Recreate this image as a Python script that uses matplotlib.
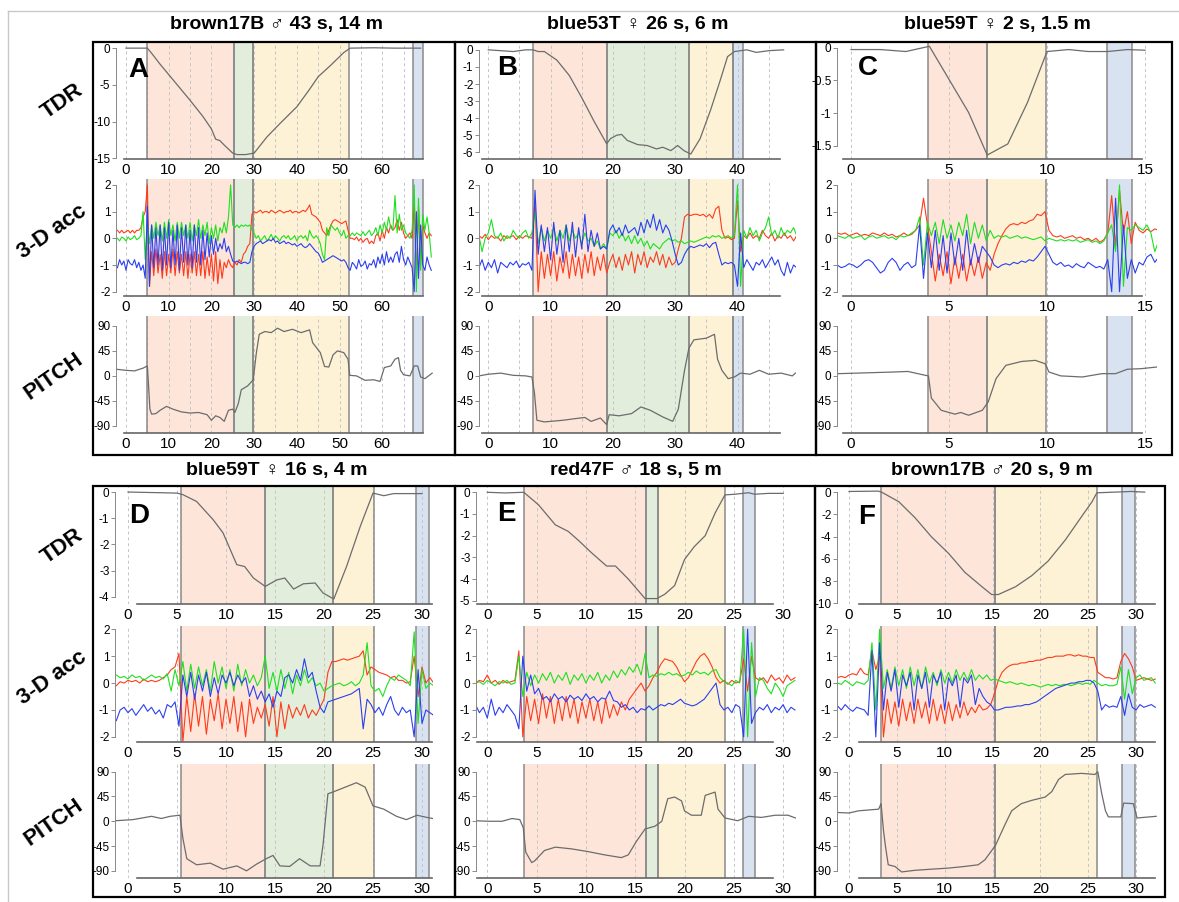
import numpy as np
import matplotlib
matplotlib.use("Agg")
import matplotlib.pyplot as plt
from matplotlib.patches import Rectangle
from matplotlib.lines import Line2D

plt.rcParams['font.family'] = ['Liberation Sans', 'DejaVu Sans']
plt.rcParams['axes.unicode_minus'] = False

W, H = 1179, 902

# ---------------- data ----------------
titles = ['brown17B \u2642 43 s, 14 m', 'blue53T \u2640 26 s, 6 m', 'blue59T \u2640 2 s, 1.5 m',
          'blue59T \u2640 16 s, 4 m', 'red47F \u2642 18 s, 5 m', 'brown17B \u2642 20 s, 9 m']
letters = ['A', 'B', 'C', 'D', 'E', 'F']
row_names = ['TDR', '3-D acc', 'PITCH']

# dive phases (s): descent, bottom, ascent, surface
phases_A = [('descent', 5.0, 25.3), ('bottom', 25.3, 29.8), ('ascent', 29.8, 52.3), ('surface', 67.2, 69.6)]
phases_B = [('descent', 7.2, 19.0), ('bottom', 19.0, 32.2), ('ascent', 32.2, 39.3), ('surface', 39.3, 40.9)]
phases_C = [('descent', 3.95, 6.92), ('ascent', 6.92, 9.95), ('surface', 13.06, 14.35)]
phases_D = [('descent', 5.4, 14.0), ('bottom', 14.0, 20.95), ('ascent', 20.95, 25.1), ('surface', 29.4, 30.75)]
phases_E = [('descent', 3.72, 16.06), ('bottom', 16.06, 17.28), ('ascent', 17.28, 24.1), ('surface', 25.96, 27.2)]
phases_F = [('descent', 3.3, 15.26), ('ascent', 15.26, 25.9), ('surface', 28.56, 29.9)]

# x tick labels
xticks_A = [0, 10, 20, 30, 40, 50, 60]
xticks_B = [0, 10, 20, 30, 40]
xticks_C = [0, 5, 10, 15]
xticks_DEF = [0, 5, 10, 15, 20, 25, 30]

# TDR depth ticks
tdr_ticks_A = [0, -5, -10, -15]
tdr_ticks_B = [0, -1, -2, -3, -4, -5, -6]
tdr_ticks_C = [0, -0.5, -1, -1.5]
tdr_ticks_D = [0, -1, -2, -3, -4]
tdr_ticks_E = [0, -1, -2, -3, -4, -5]
tdr_ticks_F = [0, -2, -4, -6, -8, -10]
acc_ticks = [2, 1, 0, -1, -2]
pitch_ticks = [90, 45, 0, -45, -90]

# TDR depth (t, m)
tdr_A = [(0, 0), (5, 0), (6, -0.7), (8, -2.2), (10, -3.6), (12, -5.0), (15, -7.1), (18, -9.3), (20, -11.0),
         (21, -12.4), (22, -12.6), (23, -13.2), (25, -14.3), (26, -14.5), (28, -14.5), (30, -14.3), (33, -12.1),
         (36, -10.3), (40, -8.0), (43, -5.6), (45, -3.9), (48, -2.3), (51, -0.6), (52.5, 0), (58, 0.05), (63, 0),
         (69, 0)]
tdr_B = [(0, 0), (2, -0.05), (4, -0.1), (6, 0), (7.2, 0), (8, -0.1), (9, -0.1), (11, -0.6), (13, -1.5), (15, -2.8),
         (17, -4.2), (19, -5.5), (19.6, -5.2), (20.6, -5.0), (21.4, -4.95), (22.3, -5.3), (24, -5.55), (25.5, -5.6),
         (27, -5.8), (28, -5.7), (29.3, -5.9), (30.4, -5.6), (31.4, -5.9), (32.5, -6.1), (34, -5.2), (35.7, -3.5),
         (37.3, -1.7), (38.4, -0.4), (39.5, -0.1), (41.5, 0), (43, -0.15), (45, -0.05), (47.4, 0)]
tdr_C = [(0, -0.03), (1.5, -0.03), (2.8, -0.06), (4.0, 0.02), (6.0, -0.99), (6.95, -1.64), (8.0, -1.47),
         (9.0, -0.84), (10.0, -0.06), (11.1, -0.03), (12.1, -0.06), (13.1, -0.06), (14.1, -0.03), (15.0, -0.04)]
tdr_D = [(0, 0), (5, -0.04), (5.6, -0.1), (7.0, -0.36), (8.7, -1.06), (9.7, -1.56), (11.1, -2.77), (11.9, -2.84),
         (12.8, -3.28), (14.0, -3.6), (15.2, -3.35), (16.0, -3.28), (16.9, -3.7), (17.9, -3.5), (19.1, -3.47),
         (19.9, -3.85), (21.0, -4.08), (22.3, -2.84), (23.7, -1.31), (25.0, -0.04), (26.1, -0.14), (27.1, -0.06),
         (28.4, -0.06), (30, -0.06)]
tdr_E = [(0, 0), (1.8, -0.03), (3.7, 0), (5.2, -0.58), (6.9, -1.5), (8.2, -1.8), (9.2, -2.2), (10.6, -2.8),
         (12.1, -3.4), (13.0, -3.4), (14.3, -4.0), (16.0, -4.9), (17.2, -4.9), (18.0, -4.7), (19.0, -4.3),
         (20.0, -3.1), (21.0, -2.5), (22.1, -2.0), (23.1, -0.96), (24.1, -0.12), (25.1, -0.09), (26.5, -0.02),
         (27.1, -0.09), (28.5, -0.05), (30.0, -0.05)]
tdr_F = [(0, 0.06), (3.07, 0.09), (3.4, 0), (5.2, -0.86), (6.9, -2.3), (8.6, -4.0), (10.4, -5.5), (12.1, -7.2),
         (13.9, -8.5), (14.9, -9.2), (15.6, -9.2), (17.4, -8.5), (19.1, -7.5), (20.8, -6.2), (22.6, -4.3),
         (24.3, -2.2), (25.4, -0.86), (25.9, -0.06), (27.8, 0), (29.5, 0.06), (30.9, 0)]

# pitch (t, deg)
pitch_A = [(-2.3, 12), (0, 10), (2, 9), (4, 14), (5, 18), (5.3, -20), (5.6, -60), (6, -69), (7, -68), (8, -62),
           (9.5, -55), (11, -60), (13, -65), (15, -67), (17, -66), (19, -70), (20, -80), (21, -72), (22, -75),
           (23, -82), (24, -62), (25, -60), (25.5, -66), (26.3, -50), (27, -25), (28.5, -18), (29.8, -7), (30.5, 40),
           (31.2, 75), (32.5, 80), (34, 78), (35.5, 86), (37, 80), (39, 84), (41, 78), (43, 83), (43.7, 60),
           (44.5, 52), (45.5, 42), (46.5, 17), (47.5, 16), (48.5, 38), (49.5, 45), (51, 42), (52, 30), (52.4, 1),
           (54, 0), (56, -8), (58, -7), (59.5, -10), (60.5, 15), (62, 18), (63, 30), (63.8, 33), (64.3, 10),
           (65, 2), (66.5, 0), (67.5, 18), (68.3, 18), (69, -2), (70, -5), (71.7, 5)]
pitch_B = [(-1.5, 0), (0, 3), (2, 5), (4, 1), (6, 0), (7, -2), (7.4, -30), (7.8, -80), (9, -83), (12, -80),
           (14, -77), (15.5, -75), (16.5, -82), (18, -76), (19, -88), (19.4, -70), (21, -72), (23, -68),
           (24.5, -56), (26, -62), (28, -74), (29.6, -82), (30.5, -60), (31.5, 10), (32.2, 50), (33, 65), (35, 68),
           (36.3, 75), (36.8, 30), (37.5, 10), (38.5, -5), (39.5, -2), (40.5, 5), (42, 3), (43.5, 10), (45, 3),
           (47, 5), (48.8, 0), (49.3, 5)]
pitch_C = [(-0.65, 4), (2.2, 7), (2.9, 8), (3.8, 1), (3.95, 0), (4.1, -40), (4.6, -62), (5.3, -69), (5.6, -66),
           (6.0, -71), (6.7, -62), (7.0, -47), (7.4, -5), (7.9, 19), (8.7, 26), (9.4, 28), (9.9, 22), (10.1, 7),
           (10.7, 0), (11.8, -2), (12.8, 4), (13.5, 4), (14.1, 12), (14.8, 13), (15.6, 16)]
pitch_D = [(-1.3, 1), (0.5, 3), (2.4, 9), (3.4, 5), (4.3, 9), (5.3, 11), (5.6, -31), (6.0, -68), (7.0, -79),
           (8.4, -76), (9.7, -87), (11.1, -81), (12.1, -90), (13.1, -78), (14.1, -68), (14.8, -62), (15.5, -81),
           (16.5, -82), (17.5, -68), (18.6, -81), (19.6, -81), (19.9, -43), (20.4, 50), (20.9, 53), (23.3, 70),
           (24.2, 62), (25.0, 28), (26.1, 22), (27.4, 9), (28.4, 3), (29.5, 11), (30.5, 7), (31.1, 5)]
pitch_E = [(-1.2, 1), (0.1, 0), (1.5, 0), (2.5, 5), (3.3, 3), (3.65, -12), (3.9, -56), (4.5, -75), (4.8, -72),
           (5.8, -53), (6.9, -47), (8.5, -50), (10.2, -55), (11.9, -61), (13.6, -66), (14.3, -61), (15.1, -37),
           (16.0, -14), (17.0, -9), (17.7, 0), (18.3, 41), (19.0, 44), (19.7, 37), (20.0, 19), (20.7, 11),
           (21.7, 11), (22.1, 47), (23.1, 53), (23.4, 22), (24.1, 6), (25.4, 1), (26.5, 9), (27.8, 7), (29.2, 11),
           (30.5, 11), (31.25, 6)]
pitch_F = [(-1.25, 16), (0, 15), (1.0, 19), (1.7, 20), (3.1, 22), (3.35, 32), (3.6, -16), (3.8, -44), (4.1, -79),
           (4.8, -82), (5.5, -92), (6.9, -89), (8.6, -87), (10.4, -85), (12.1, -82), (13.5, -79), (14.2, -70),
           (15.3, -44), (16.3, -6), (17.0, 19), (18.0, 32), (19.1, 38), (20.5, 44), (21.2, 54), (21.9, 76),
           (22.6, 85), (24.3, 87), (25.7, 85), (26.0, 90), (26.4, 51), (26.8, 19), (27.1, 8), (28.4, 8), (28.7, 33),
           (29.7, 32), (30.1, 6), (32.1, 9)]

# 3-D acceleration (g), sampled from t0 every dt seconds
acc_A_t0, acc_A_dt = -2.0, 0.5
acc_A_red = [0.3, 0.2, 0.3, 0.2, 0.25, 0.3, 0.2, 0.3, 0.2, 0.3,
             0.3, 0.4, 0.8, 1.0, 2.0, -1.8, -0.5, -1.4, -0.4, -1.3,
             -0.6, -1.5, -0.5, -1.4, -0.6, -1.3, -0.4, -1.4, -0.5, -1.3,
             -0.6, -1.4, -0.5, -1.5, -0.6, -1.3, -0.5, -1.4, -0.6, -1.4,
             -0.5, -1.5, -0.7, -1.4, -0.6, -1.6, -0.5, -1.7, -0.8, -1.5,
             -0.9, -1.1, -0.8, -1.0, -1.1, -0.9, -1.0, -0.8, -0.9, -0.6,
             -0.5, -0.3, -0.2, 0.9, 1.0, 0.95, 1.0, 1.05, 0.95, 1.0,
             1.0, 0.95, 1.05, 1.0, 0.95, 1.0, 1.05, 1.0, 0.95, 1.0,
             1.0, 1.05, 0.95, 1.0, 1.0, 0.95, 1.0, 1.05, 1.0, 1.1,
             1.25, 0.9, 0.85, 0.8, 0.7, 0.6, 0.3, 0.2, 0.1, 0.3,
             0.5, 0.65, 0.7, 0.65, 0.6, 0.55, 0.6, 0.65, 0.3, 0.0,
             0.0, -0.05, 0.05, -0.1, 0.0, -0.15, -0.05, 0.0, -0.2, -0.1,
             -0.2, 0.1, 0.2, -0.1, 0.3, 0.0, 0.4, 0.2, 0.5, 0.3,
             0.4, 0.7, 0.3, 0.6, 0.2, 0.0, 0.1, 0.2, 0.0, 1.4,
             -1.5, 1.2, -1.0, 0.5, 0.2, 0.0, 0.2, 0.1]
acc_A_green = [0.0, -0.1, 0.05, 0.0, -0.1, 0.05, -0.05, 0.0, 0.1, -0.05,
               0.0, 0.1, 1.0, -0.8, 0.6, -0.2, 0.5, 0.0, 0.6, 0.1,
               0.5, -0.1, 0.6, 0.0, 0.7, 0.1, 0.5, -0.1, 0.6, 0.0,
               0.6, 0.1, 0.5, 0.0, 0.6, -0.1, 0.5, 0.1, 0.7, 0.0,
               0.5, 0.1, 0.6, -0.2, 0.4, 0.0, 0.5, -0.1, 0.4, 0.2,
               0.6, 0.2, 0.8, 2.0, 0.5, 0.4, 0.5, 0.4, 0.5, 0.45,
               0.5, 0.45, 0.5, 0.3, 0.2, 0.0, 0.1, -0.1, 0.0, 0.1,
               -0.1, 0.0, 0.15, -0.05, 0.1, 0.0, -0.1, 0.05, 0.1, 0.0,
               0.1, -0.05, 0.0, 0.1, -0.1, 0.05, 0.1, 0.0, 0.1, -0.1,
               0.3, 0.1, 0.0, 0.1, 0.0, -0.2, -0.6, -0.8, 0.4, 0.1,
               0.5, 0.4, 0.3, 0.4, 0.2, 0.1, 0.3, 0.0, 0.1, 0.1,
               0.2, 0.1, 0.2, 0.15, 0.1, 0.25, 0.1, 0.2, 0.3, 0.1,
               0.2, 0.4, 0.1, 0.5, 0.2, 0.6, 0.3, 0.8, 0.4, 0.3,
               1.6, 0.2, 0.9, 0.3, 0.5, 0.2, 0.1, 0.0, 0.3, 2.0,
               -2.0, 1.5, -1.2, 0.9, 0.3, 0.8, 0.2, -0.7]
acc_A_blue = [-1.1, -0.8, -1.0, -0.85, -1.2, -0.8, -0.95, -1.0, -0.8, -1.1,
              -0.9, -1.2, -1.0, -1.5, 1.2, -1.8, 0.5, -1.1, 0.4, -1.0,
              0.5, -1.2, 0.4, -1.0, 0.6, -1.1, 0.3, -1.0, 0.5, -1.2,
              0.4, -0.9, 0.5, -1.0, 0.3, -1.1, 0.5, -0.9, 0.4, -1.0,
              0.3, -0.8, 0.2, -0.7, 0.1, -0.6, 0.0, -0.5, -0.2, -0.4,
              0.0, -0.5, -0.3, -0.6, -0.85, -0.9, -0.85, -0.9, -0.95, -0.9,
              -0.9, -0.95, -0.9, -0.5, -0.3, -0.2, -0.15, -0.1, -0.2, -0.15,
              -0.1, -0.05, -0.1, 0.0, -0.15, -0.1, -0.2, -0.15, -0.1, -0.2,
              -0.15, -0.2, -0.25, -0.2, -0.3, -0.25, -0.2, -0.3, -0.35, -0.3,
              -0.2, -0.3, -0.4, -0.5, -0.55, -0.7, -0.9, -0.85, -0.8, -0.75,
              -0.7, -0.65, -0.7, -0.75, -0.8, -0.85, -0.8, -0.9, -1.1, -1.2,
              -0.9, -1.0, -1.15, -0.8, -1.05, -1.0, -0.85, -1.15, -0.95, -1.0,
              -0.8, -1.1, -0.7, -0.95, -0.6, -1.0, -0.5, -0.9, -0.7, -0.9,
              -0.6, -0.5, -0.9, -0.3, -0.8, -1.0, -0.7, -0.9, -1.1, -2.0,
              1.0, -1.5, 0.5, -1.0, -1.2, -0.7, -1.0, -1.2]

acc_B_t0, acc_B_dt = -1.5, 0.5
acc_B_red = [0.1, 0.0, 0.15, -0.05, 0.1, 0.0, 0.05, -0.1, 0.1, 0.0,
             0.05, 0.1, -0.05, 0.1, 0.0, 0.1, 0.05, 0.0, 1.4, -2.0,
             -0.5, -1.5, -0.6, -1.4, -0.5, -1.6, -0.7, -1.3, -0.5, -1.5,
             -0.6, -1.4, -0.7, -1.5, -0.6, -1.3, -0.5, -1.4, -0.7, -1.2,
             -0.6, -1.3, -0.9, -0.6, -1.1, -0.7, -1.2, -0.6, -1.0, -0.5,
             -1.3, -0.6, -1.0, -0.5, -1.1, -0.7, -0.9, -0.5, -1.0, -0.6,
             -1.1, -0.7, -1.0, -0.9, -0.4, 0.0, 0.8, 0.9, 0.85, 0.9,
             0.9, 0.85, 0.9, 0.8, 0.9, 0.75, 1.1, 1.2, 0.3, 0.0,
             0.05, -0.05, 0.0, 1.4, -0.5, 0.1, 0.0, 0.2, 0.0, 0.1,
             0.0, 0.3, 0.1, 0.0, 0.2, -0.1, 0.1, 0.0, 0.2, 0.0,
             0.1, -0.1, 0.1, 0.0]
acc_B_green = [0.1, -0.5, 0.0, 0.2, 0.7, 0.1, 0.0, 0.2, -0.1, 0.1,
               0.0, 0.3, 0.1, 0.0, 0.2, 0.3, 0.0, 0.2, 1.0, -0.2,
               0.4, -0.1, 0.3, 0.0, 0.4, -0.1, 0.3, 0.0, 0.5, -0.1,
               0.3, 0.0, 0.2, -0.2, 0.2, -0.1, 0.0, -0.3, -0.1, -0.4,
               -0.2, -0.4, 0.2, 0.1, 0.3, 0.0, 0.2, -0.1, 0.1, -0.2,
               0.1, -0.2, 0.0, -0.3, -0.1, -0.4, -0.2, -0.3, -0.4, -0.2,
               -0.1, 0.0, -0.1, -0.05, -0.15, -0.1, -0.2, -0.15, -0.1, -0.15,
               -0.1, -0.05, 0.0, 0.05, 0.0, 0.1, 0.05, 0.1, 0.0, 0.05,
               0.1, 0.0, 0.1, 2.0, -1.8, 0.3, 0.0, 0.4, 0.1, 0.3,
               -0.1, 0.2, 0.4, 0.8, 0.1, 0.3, 0.0, 0.4, 0.1, 0.3,
               0.2, 0.4, 0.1, 0.3]
acc_B_blue = [-1.1, -0.8, -1.2, -0.9, -1.1, -0.8, -1.3, -0.9, -1.0, -1.1,
              -0.9, -1.0, -0.85, -1.1, -0.95, -1.0, -0.9, -1.2, 1.8, -0.6,
              0.5, -0.5, 0.4, -0.8, 0.6, -0.6, 0.3, -0.9, 0.5, -0.5,
              0.6, -0.7, 0.4, -0.4, 0.9, -0.5, 0.3, -0.3, 0.2, -0.4,
              -0.3, -0.4, 0.3, 0.5, 0.2, 0.4, 0.1, 0.5, 0.2, 0.3,
              0.4, 0.1, 0.6, 0.2, 0.7, 0.4, 0.9, 0.3, 0.7, 0.2,
              0.5, 0.3, -0.1, -0.6, -1.0, -0.9, -0.6, -0.4, -0.3, -0.35,
              -0.3, -0.25, -0.3, -0.2, -0.35, -0.2, -0.15, -0.6, -1.0, -0.9,
              -0.95, -0.9, -1.0, -1.8, 0.2, -1.1, -0.8, -1.0, -1.2, -0.9,
              -1.0, -0.8, -1.1, -0.9, -0.7, -1.0, -0.8, -1.2, -1.4, -0.9,
              -1.3, -1.0, -1.1, -0.9]

acc_C_t0, acc_C_dt = -0.7, 0.2
acc_C_red = [0.2, 0.15, 0.2, 0.1, 0.15, 0.2, 0.1, 0.15, 0.1, 0.2,
             0.15, 0.1, 0.2, 0.1, 0.15, 0.05, 0.1, 0.2, 0.1, 0.15,
             0.3, 0.5, 1.5, 0.5, -0.5, -1.6, -0.6, -1.4, -0.5, -1.7,
             -0.7, -1.5, -0.6, -1.6, -0.8, -1.4, -0.7, -1.5, -0.9, -1.2,
             -0.6, -0.2, 0.1, 0.35, 0.5, 0.55, 0.5, 0.6, 0.55, 0.65,
             0.7, 0.9, 0.85, 1.0, 0.3, 0.1, 0.05, 0.1, 0.0, 0.05,
             0.1, 0.0, 0.05, -0.05, 0.0, -0.1, 0.0, -0.15, -0.05, 0.2,
             1.6, -0.3, 1.8, 0.2, 1.0, -0.2, 0.6, 0.3, 0.2, 0.35,
             0.25, 0.35, 0.3]
acc_C_green = [0.1, 0.05, 0.0, 0.1, 0.0, 0.05, 0.1, -0.05, 0.05, 0.1,
               0.0, 0.05, 0.1, 0.0, 0.05, -0.05, 0.1, 0.05, 0.1, 0.2,
               0.3, 0.8, -1.0, 0.6, 0.1, 0.6, -0.2, 0.7, 0.0, 0.5,
               -0.1, 0.6, 0.1, 0.9, -0.2, 0.6, 0.0, 0.5, -0.1, 0.3,
               0.0, 0.1, 0.05, 0.1, 0.0, 0.05, 0.1, 0.0, 0.05, 0.0,
               -0.05, 0.0, 0.05, -0.1, 0.0, -0.05, -0.1, -0.05, -0.1, -0.05,
               -0.1, -0.05, -0.15, -0.1, -0.05, -0.15, -0.1, -0.2, -0.1, 0.2,
               0.5, -0.5, 2.0, -1.8, 0.4, 0.3, 0.5, 0.4, 0.3, 0.5,
               0.2, -0.5, -0.1]
acc_C_blue = [-1.0, -1.1, -1.05, -0.95, -1.0, -1.1, -1.0, -0.85, -0.8, -0.9,
              -1.1, -1.3, -1.2, -0.9, -0.75, -0.9, -1.2, -1.0, -0.9, -1.1,
              -1.0, 0.5, -1.5, 0.2, -1.1, 0.3, -1.2, 0.1, -1.3, 0.2,
              -1.0, 0.0, -1.2, 0.3, -1.0, -0.2, -0.9, -0.3, -0.5, -0.7,
              -1.0, -1.1, -1.0, -0.95, -1.0, -0.9, -0.95, -0.85, -0.9, -0.8,
              -0.85, -0.7, -0.5, -0.3, -0.6, -0.9, -1.0, -0.9, -1.05, -1.0,
              -1.1, -0.95, -1.05, -1.1, -0.9, -1.0, -1.1, -1.05, -1.15, -0.8,
              -2.0, 1.5, -2.0, 0.5, -1.5, -0.8, -1.3, -0.9, -1.0, -0.7,
              -0.6, -0.9, -0.7]

acc_D_t0, acc_D_dt = -1.2, 0.4
acc_D_red = [-0.1, 0.05, 0.0, 0.1, 0.05, 0.1, 0.0, 0.15, 0.05, 0.1,
             0.05, 0.1, 0.2, 0.3, 0.5, 0.6, 1.1, -2.2, -0.5, -1.8,
             -0.4, -1.6, -0.5, -1.9, -0.6, -1.4, -0.4, -1.7, -0.6, -1.5,
             -0.5, -1.8, -0.7, -2.0, -0.6, -1.5, -0.9, -1.3, -0.8, -1.6,
             -0.5, -2.0, -0.7, -1.7, -0.8, -1.3, -0.9, -1.2, -0.8, -1.3,
             -1.0, -1.2, -0.9, -0.6, 0.4, 0.8, 0.8, 0.85, 0.9, 0.85,
             0.9, 0.95, 1.0, 1.2, 0.3, 0.6, 0.5, 0.4, 0.35, 0.3,
             0.2, 0.25, 0.1, 0.1, 0.0, 0.05, 1.0, -0.5, 0.6, 0.0,
             0.2, 0.0]
acc_D_green = [0.3, 0.2, 0.25, 0.15, 0.3, 0.2, 0.25, 0.1, 0.2, 0.3,
               0.2, 0.25, 0.15, 0.35, -0.3, 0.5, -0.1, 0.8, -0.3, 0.7,
               -0.2, 0.6, -0.1, 0.5, -0.3, 0.8, 0.0, 0.6, -0.2, 0.5,
               -0.3, 0.7, -0.1, 0.5, 0.0, 0.3, -0.1, 0.2, 1.0, -0.2,
               0.4, -0.3, 0.5, -0.2, 0.4, -0.4, 0.3, -0.1, 0.5, 0.0,
               0.2, -0.1, 0.0, -0.3, -0.2, -0.1, -0.05, 0.0, -0.1, -0.05,
               0.05, -0.1, 0.0, 0.3, 1.5, -0.1, -0.3, -0.2, -0.5, -0.1,
               0.2, 0.1, 0.3, 0.2, 0.1, -0.1, 1.9, -1.5, 0.5, -0.2,
               0.0, -0.1]
acc_D_blue = [-1.4, -1.0, -0.9, -1.1, -0.95, -1.2, -1.0, -0.8, -1.05, -0.9,
              -1.15, -1.0, -1.3, -0.8, -0.9, -0.7, -1.6, 0.3, -0.5, 0.4,
              -0.6, 0.3, -0.3, 0.4, -0.5, 0.2, -0.4, 0.3, 0.0, 0.4,
              -0.1, 0.3, 0.0, 0.2, -0.5, -0.1, -0.6, -0.3, -0.7, -0.4,
              -0.9, -0.3, -0.5, 0.2, 0.3, 0.0, 0.5, 0.1, 0.9, 0.2,
              0.4, -0.3, -0.9, -1.1, -0.7, -0.65, -0.6, -0.55, -0.5, -0.45,
              -0.4, -0.3, -0.2, -1.7, -0.6, -0.8, -1.1, -0.9, -1.2, -0.8,
              -0.5, -1.0, -1.2, -0.9, -1.1, -1.0, -2.0, 0.5, -1.5, -1.0,
              -1.1, -1.2]

acc_E_t0, acc_E_dt = -1.2, 0.4
acc_E_red = [0.0, 0.1, 0.05, 0.3, 0.0, 0.1, -0.05, 0.1, 0.0, 0.05,
             0.1, 1.2, -2.0, -0.5, -1.4, -0.6, -1.5, -0.4, -1.3, -0.5,
             -1.5, -0.6, -1.4, -0.5, -1.3, -0.6, -1.5, -0.7, -1.3, -0.6,
             -1.4, -0.7, -1.5, -0.6, -1.3, -0.8, -1.2, -0.7, -1.0, -0.6,
             -0.4, -0.2, 0.0, -0.3, -0.1, 0.2, 0.4, 0.7, 0.9, 0.85,
             0.8, 0.6, 0.3, 0.05, 0.2, 0.5, 0.8, 1.0, 1.1, 0.9,
             0.6, 0.2, 0.0, 0.1, -0.05, 0.1, 0.0, 0.05, 0.9, -0.3,
             1.0, 0.2, 0.1, 0.2, 0.0, 0.3, 0.1, 0.2, 0.0, 0.3,
             0.1, 0.2]
acc_E_green = [0.0, 0.05, -0.05, 0.1, 0.0, -0.1, 0.05, 0.0, 0.1, -0.05,
               0.0, 1.0, -0.5, 0.4, -0.1, 0.3, 0.0, 0.35, 0.1, 0.4,
               0.0, 0.3, 0.1, 0.4, -0.05, 0.3, 0.1, 0.35, 0.0, 0.3,
               0.1, 0.4, 0.0, 0.3, 0.1, 0.45, 0.2, 0.5, 0.3, 0.6,
               0.4, 0.7, 0.3, 1.1, 0.2, 0.3, 0.25, 0.35, 0.3, 0.4,
               0.3, 0.35, 0.25, 0.3, 0.4, 0.3, 0.45, 0.35, 0.4, 0.3,
               0.45, 0.5, 0.2, 0.05, 0.0, -0.1, 0.1, 0.0, 2.0, -2.0,
               1.5, -0.5, 0.2, 0.1, -0.2, -0.4, 0.0, -0.2, -0.5, -0.1,
               0.0, 0.1]
acc_E_blue = [-0.8, -1.1, -0.9, -1.3, -0.6, -1.2, -0.9, -1.1, -0.8, -1.0,
              -1.2, -1.7, 1.0, -0.3, 0.3, -0.4, -0.2, -0.6, -0.5, -0.7,
              -0.4, -0.6, -0.5, -0.7, -0.45, -0.6, -0.5, -0.65, -0.4, -0.6,
              -0.5, -0.7, -0.55, -0.6, -0.3, -0.65, -0.7, -0.9, -0.8, -1.0,
              -0.9, -1.1, -0.95, -1.0, -0.85, -1.0, -0.9, -0.8, -0.85, -0.75,
              -0.8, -0.7, -0.6, -0.75, -0.8, -0.85, -0.8, -0.7, -0.6, -0.4,
              -0.2, 0.0, -0.8, -1.0, -0.9, -1.1, -0.8, -0.9, -2.0, 2.0,
              -1.5, -1.1, -0.9, -1.0, -0.8, -1.1, -0.9, -1.0, -0.8, -1.1,
              -0.9, -1.0]

acc_F_t0, acc_F_dt = -1.2, 0.4
acc_F_red = [0.2, 0.25, 0.2, 0.3, 0.35, 0.3, 0.55, 0.35, 0.3, 1.2,
             0.5, 1.0, -2.0, -0.6, -1.5, -0.7, -1.6, -0.6, -1.4, -0.7,
             -1.5, -0.6, -1.3, -0.7, -1.5, -0.6, -1.4, -0.8, -1.5, -0.7,
             -1.4, -0.8, -1.3, -0.7, -1.2, -0.9, -1.1, -0.8, -1.0, -0.95,
             -0.8, -0.4, 0.1, 0.4, 0.55, 0.65, 0.7, 0.7, 0.75, 0.75,
             0.8, 0.8, 0.85, 0.85, 0.9, 0.95, 0.95, 1.0, 1.0, 1.0,
             1.05, 1.05, 1.0, 1.05, 1.0, 1.0, 0.95, 0.95, 0.4, 0.3,
             0.2, 0.2, 0.15, 0.2, 0.8, 1.1, 0.9, 0.6, 0.1, 0.15,
             0.2, 0.15, 0.1, 0.15]
acc_F_green = [0.0, -0.05, 0.1, 0.0, -0.1, 0.05, 0.0, -0.05, 0.1, 1.5,
               -1.0, 2.0, -0.2, 0.5, -0.2, 0.6, -0.1, 0.5, -0.2, 0.6,
               -0.1, 0.5, -0.2, 0.6, 0.0, 0.4, -0.1, 0.5, 0.0, 0.4,
               0.0, 0.5, 0.1, 0.4, 0.1, 0.5, 0.1, 0.3, 0.15, 0.3,
               0.1, 0.15, 0.1, 0.05, 0.0, 0.05, 0.0, -0.05, 0.0, -0.05,
               -0.1, -0.05, -0.1, -0.15, -0.1, -0.05, -0.1, -0.05, -0.1, -0.05,
               -0.05, -0.1, -0.05, 0.0, -0.05, 0.0, -0.05, 0.1, 0.0, -0.1,
               -0.05, -0.1, -0.1, -0.05, 0.6, -0.6, 0.5, -0.4, 0.2, 0.3,
               0.1, 0.15, 0.2, 0.0]
acc_F_blue = [-0.85, -1.0, -0.8, -0.95, -1.05, -0.9, -0.95, -1.0, -1.2, 1.2,
              -2.0, 1.5, -1.0, 0.4, -0.3, 0.5, -0.9, 0.3, -0.1, 0.4,
              -1.0, 0.3, -0.2, 0.4, -0.9, 0.3, 0.0, 0.4, -1.0, 0.2,
              -0.1, 0.3, -0.9, 0.2, 0.0, 0.3, -0.8, -0.2, -0.5, -0.7,
              -0.8, -1.0, -1.0, -0.95, -0.9, -0.9, -0.88, -0.85, -0.85, -0.8,
              -0.8, -0.75, -0.7, -0.6, -0.5, -0.4, -0.3, -0.2, -0.15, -0.1,
              -0.05, 0.0, 0.0, 0.05, 0.05, 0.1, 0.1, 0.0, -0.3, -1.0,
              -0.8, -0.9, -0.85, -0.9, -0.5, -1.2, -0.4, -0.9, -1.0, -0.8,
              -0.9, -0.85, -0.8, -0.9]

# ---------------- styling / layout (pixels) ----------------
phase_colors = {'descent': '#fde5da', 'bottom': '#e3eddb', 'ascent': '#fdf2d6', 'surface': '#d9e2f1'}
acc_colors = ['#ff3b1c', '#1fe01f', '#2b3ff0']
trace_color = '#6c6c6c'

panels = [
    dict(tdr=tdr_A, pitch=pitch_A, phases=phases_A, xticks=xticks_A, tdr_ticks=tdr_ticks_A,
         acc=(acc_A_t0, acc_A_dt, acc_A_red, acc_A_green, acc_A_blue), grid=range(0, 70, 5),
         x0=126, scale=4.27, left=116, right=433, bounds=(-0.5, 69.5), tdr_ylim=(-15.1, 0.7),
         box=(93, 42, 455, 455), row=0, letter=(138, 70)),
    dict(tdr=tdr_B, pitch=pitch_B, phases=phases_B, xticks=xticks_B, tdr_ticks=tdr_ticks_B,
         acc=(acc_B_t0, acc_B_dt, acc_B_red, acc_B_green, acc_B_blue), grid=range(0, 50, 5),
         x0=488.3, scale=6.23, left=479, right=796, bounds=(-1.0, 46.8), tdr_ylim=(-6.39, 0.4),
         box=(455, 42, 816, 455), row=0, letter=(507, 68)),
    dict(tdr=tdr_C, pitch=pitch_C, phases=phases_C, xticks=xticks_C, tdr_ticks=tdr_ticks_C,
         acc=(acc_C_t0, acc_C_dt, acc_C_red, acc_C_green, acc_C_blue), grid=range(0, 20, 5),
         x0=851, scale=19.6, left=837, right=1157, bounds=(-0.4, 14.85), tdr_ylim=(-1.70, 0.07),
         box=(816, 42, 1172, 455), row=0, letter=(868, 68)),
    dict(tdr=tdr_D, pitch=pitch_D, phases=phases_D, xticks=xticks_DEF, tdr_ticks=tdr_ticks_D,
         acc=(acc_D_t0, acc_D_dt, acc_D_red, acc_D_green, acc_D_blue), grid=range(0, 35, 5),
         x0=128, scale=9.8, left=115, right=433, bounds=(0.9, 31.0), tdr_ylim=(-4.27, 0.23),
         box=(93, 486, 455, 897), row=1, letter=(139, 516)),
    dict(tdr=tdr_E, pitch=pitch_E, phases=phases_E, xticks=xticks_DEF, tdr_ticks=tdr_ticks_E,
         acc=(acc_E_t0, acc_E_dt, acc_E_red, acc_E_green, acc_E_blue), grid=range(0, 35, 5),
         x0=487.3, scale=9.86, left=476, right=796, bounds=(-1.0, 29.0), tdr_ylim=(-5.15, 0.29),
         box=(455, 486, 815, 897), row=1, letter=(506, 514)),
    dict(tdr=tdr_F, pitch=pitch_F, phases=phases_F, xticks=xticks_DEF, tdr_ticks=tdr_ticks_F,
         acc=(acc_F_t0, acc_F_dt, acc_F_red, acc_F_green, acc_F_blue), grid=range(0, 35, 5),
         x0=849, scale=9.57, left=837, right=1157, bounds=(1.0, 32.0), tdr_ylim=(-10.05, 0.55),
         box=(815, 486, 1165, 897), row=1, letter=(867, 517)),
]
row_y = [[(43, 159), (179, 296), (316, 433)], [(486, 604), (626, 742), (764, 878)]]
acc_ylim = [(-2.16, 2.22), (-2.19, 2.12)]
pitch_ylim = [(-103, 108), (-103, 104)]
title_pos = [(277, 25), (638, 25), (997, 25), (277, 470), (636, 470), (992, 470)]
rowlab_pos = [[(62, 101), (52, 232), (54, 376)], [(62, 546), (52, 678), (54, 822)]]

fig = plt.figure(figsize=(W / 100, H / 100), dpi=100)


def px_axes(x0, y0, x1, y1):
    return fig.add_axes([x0 / W, 1 - y1 / H, (x1 - x0) / W, (y1 - y0) / H])


def style_axes(ax, p, ylim, yticks, ylabels=None):
    xl = ((p['left'] - p['x0']) / p['scale'], (p['right'] - p['x0']) / p['scale'])
    ax.set_xlim(xl)
    ax.set_ylim(ylim)
    ax.patch.set_alpha(0)
    for s in ['top', 'right']:
        ax.spines[s].set_visible(False)
    ax.spines['left'].set_bounds(min(yticks), max(yticks))
    ax.spines['left'].set_color('#888888')
    ax.spines['left'].set_linewidth(0.7)
    ax.spines['bottom'].set_bounds(*p['bounds'])
    ax.spines['bottom'].set_color('#666666')
    ax.spines['bottom'].set_linewidth(1.2)
    ax.set_yticks(yticks)
    if ylabels is not None:
        ax.set_yticklabels(ylabels)
    ax.set_xticks(p['xticks'])
    ax.tick_params(axis='y', length=3, width=0.6, color='#777777', labelsize=8.5, pad=1)
    ax.tick_params(axis='x', length=0, labelsize=11, pad=3)
    for name, a, b in p['phases']:
        ax.axvspan(a, b, color=phase_colors[name], lw=0, zorder=0)
        ax.axvline(a, color='#8a8a8a', lw=1.1, zorder=1)
        ax.axvline(b, color='#8a8a8a', lw=1.1, zorder=1)
    for g in p['grid']:
        ax.axvline(g, color='#c4c4c4', lw=0.7, ls=(0, (3, 3)), zorder=0.5)


for k, p in enumerate(panels):
    r = p['row']
    (t_top, t_bot), (a_top, a_bot), (q_top, q_bot) = row_y[r]

    ax1 = px_axes(p['left'], t_top, p['right'], t_bot)
    labs = [('%g' % v) for v in p['tdr_ticks']]
    style_axes(ax1, p, p['tdr_ylim'], p['tdr_ticks'], labs)
    t, v = zip(*p['tdr'])
    ax1.plot(t, v, color=trace_color, lw=0.9, zorder=2)

    ax2 = px_axes(p['left'], a_top, p['right'], a_bot)
    style_axes(ax2, p, acc_ylim[r], acc_ticks)
    t0, dt, red, green, blue = p['acc']
    for vals, c in zip((red, green, blue), acc_colors):
        tt = t0 + dt * np.arange(len(vals))
        ax2.plot(tt, vals, color=c, lw=0.8, zorder=2)

    ax3 = px_axes(p['left'], q_top, p['right'], q_bot)
    style_axes(ax3, p, pitch_ylim[r], pitch_ticks)
    t, v = zip(*p['pitch'])
    ax3.plot(t, v, color=trace_color, lw=0.9, zorder=2)

    bx0, by0, bx1, by1 = p['box']
    fig.add_artist(Rectangle((bx0 / W, 1 - by1 / H), (bx1 - bx0) / W, (by1 - by0) / H,
                             transform=fig.transFigure, fill=False, ec='black', lw=1.6, zorder=5))
    lx, ly = p['letter']
    fig.text(lx / W, 1 - ly / H, letters[k], fontsize=20, fontweight='bold', ha='center', va='center')
    tx, ty = title_pos[k]
    fig.text(tx / W, 1 - ty / H, titles[k], fontsize=14, fontweight='bold', ha='center', va='center')

for r in range(2):
    for j, name in enumerate(row_names):
        x, y = rowlab_pos[r][j]
        fig.text(x / W, 1 - y / H, name, fontsize=16, fontweight='bold', rotation=35,
                 ha='center', va='center')

# outer light frame
fig.add_artist(Line2D([8 / W, 8 / W], [0, 1 - 11 / H], transform=fig.transFigure, color='#c8c8c8', lw=1))
fig.add_artist(Line2D([8 / W, 1], [1 - 11 / H, 1 - 11 / H], transform=fig.transFigure, color='#c8c8c8', lw=1))

fig.savefig('out.png', dpi=100)
